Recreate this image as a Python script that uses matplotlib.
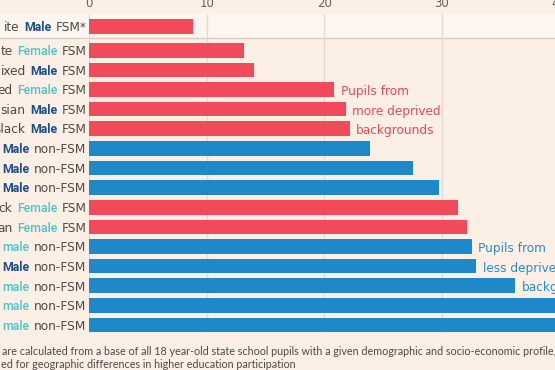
import numpy as np
import matplotlib
matplotlib.use("Agg")
import matplotlib.pyplot as plt
from matplotlib.patches import Rectangle
from matplotlib.lines import Line2D

# ---------------- data (label text as visible in the cropped reference) ----------------
label_prefix = ["ite", "te", "ixed", "ed", "sian", "Black", "", "",
                "", "ck", "an", "", "", "", "", ""]
gender = ["Male", "Female", "Male", "Female", "Male", "Male", "Male", "Male",
          "Male", "Female", "Female", "Female", "Male", "Female", "Female", "Female"]
gender_shown = ["Male", "Female", "Male", "Female", "Male", "Male", "Male", "Male",
                "Male", "Female", "Female", "male", "Male", "male", "male", "male"]
status = ["FSM*", "FSM", "FSM", "FSM", "FSM", "FSM", "non-FSM", "non-FSM",
          "non-FSM", "FSM", "FSM", "non-FSM", "non-FSM", "non-FSM", "non-FSM", "non-FSM"]
rates = [8.85, 13.2, 14.0, 20.85, 21.85, 22.15, 23.85, 27.55,
         29.75, 31.35, 32.15, 32.55, 32.95, 36.25, 40.6, 41.8]
x_ticks = [0, 10, 20, 30, 40]

red_note = ["Pupils from", "more deprived", "backgrounds"]
red_note_rows = [3, 4, 5]
blue_note = ["Pupils from", "less deprived", "backgrounds"]
blue_note_rows = [11, 12, 13]

footnote_lines = [
    "are calculated from a base of all 18 year-old state school pupils with a given demographic and socio-economic profile,",
    "ed for geographic differences in higher education participation",
]

# ---------------- style ----------------
BG = "#fcefe6"
BAND = "#fdf6f0"
GRID = "#e5dad0"
SEP = "#d8cdc4"
RED = "#f04a5b"
BLUE = "#1e88c8"
RED_TXT = "#e44c5e"
BLUE_TXT = "#2a8cc9"
MALE_C = "#1c4f8a"
FEMALE_C = "#4ec3c6"
GREY = "#4f4a47"
TICK_C = "#66605c"

MAIN_FAMILY = ["DejaVu Sans"]
GEN_FAMILY = ["Roboto", "Liberation Sans", "DejaVu Sans"]
FN_FAMILY = ["Liberation Sans Narrow", "Lato", "DejaVu Sans"]

W, H = 555, 370
fig = plt.figure(figsize=(W / 100, H / 100), dpi=100, facecolor=BG)
fig.canvas.draw()
rend = fig.canvas.get_renderer()


def fit_size(text, target_px, family, weight="normal"):
    t = fig.text(0, 0, text, fontsize=10, family=family, fontweight=weight)
    w = t.get_window_extent(rend).width
    t.remove()
    return 10 * target_px / w


FS = fit_size("non-FSM", 52.0, MAIN_FAMILY)
FS_MALE = fit_size("Male", 27.3, GEN_FAMILY, "bold")
FS_FEMALE = fit_size("Female", 40.0, GEN_FAMILY, "medium")
FS_FN = fit_size(footnote_lines[0], 551.0, FN_FAMILY)

x0_px, px_per_unit = 89.3, 11.75
top_px, bot_px = 13.5, 332.5
xmax = 45
ax = fig.add_axes([x0_px / W, 1 - bot_px / H, xmax * px_per_unit / W, (bot_px - top_px) / H])
ax.patch.set_visible(False)

n = len(rates)
ypos = np.arange(n, dtype=float) - 1.0
ypos[0] -= 0.22
ax.set_xlim(0, xmax)
ax.set_ylim(14.38, -1.87)

colors = [RED if s.startswith("FSM") else BLUE for s in status]
ax.barh(ypos, rates, height=0.745, color=colors, zorder=2)

# top band and separator spanning whole figure
sep_px = 37.6
fig.add_artist(Rectangle((0, 1 - sep_px / H), 1, (sep_px - top_px) / H,
                         transform=fig.transFigure, facecolor=BAND, edgecolor="none", zorder=-2))
fig.add_artist(Line2D([0, 1], [1 - sep_px / H] * 2, transform=fig.transFigure,
                      color=SEP, lw=1.0, zorder=-1))

ax.set_xticks(x_ticks)
ax.set_xticklabels([str(t) for t in x_ticks])
ax.xaxis.tick_top()
ax.tick_params(axis="x", length=0, pad=2.5, labelsize=FS * 0.97, colors=TICK_C)
ax.set_yticks([])
for s in ax.spines.values():
    s.set_visible(False)
ax.xaxis.grid(True, color=GRID, lw=1.0)
ax.set_axisbelow(True)

# multi-coloured category labels, chained right to left
ybase_off = -3.4
for i in range(n):
    t1 = ax.annotate(status[i], xy=(0, ypos[i]), xycoords="data",
                     xytext=(-2.0, ybase_off), textcoords="offset points",
                     ha="right", va="baseline", fontsize=FS, color=GREY,
                     family=MAIN_FAMILY, annotation_clip=False)
    male = gender[i] == "Male"
    t2 = ax.annotate(gender_shown[i], xy=(0, ypos[i]), xycoords=(t1, "data"),
                     xytext=(-3.2, ybase_off), textcoords="offset points",
                     ha="right", va="baseline", family=GEN_FAMILY,
                     fontsize=FS_MALE if male else FS_FEMALE,
                     color=MALE_C if male else FEMALE_C,
                     fontweight="bold" if male else "medium",
                     annotation_clip=False)
    if label_prefix[i]:
        ax.annotate(label_prefix[i], xy=(0, ypos[i]), xycoords=(t2, "data"),
                    xytext=(-3.2, ybase_off), textcoords="offset points",
                    ha="right", va="baseline", fontsize=FS, color=GREY,
                    family=MAIN_FAMILY, annotation_clip=False)

# annotations
for txt, r in zip(red_note, red_note_rows):
    ax.annotate(txt, xy=(rates[r], ypos[r]), xytext=(4.6, ybase_off - 0.6),
                textcoords="offset points", ha="left", va="baseline",
                fontsize=FS, color=RED_TXT, family=MAIN_FAMILY, annotation_clip=False)
for txt, r in zip(blue_note, blue_note_rows):
    ax.annotate(txt, xy=(rates[r], ypos[r]), xytext=(4.6, ybase_off - 0.6),
                textcoords="offset points", ha="left", va="baseline",
                fontsize=FS, color=BLUE_TXT, family=MAIN_FAMILY, annotation_clip=False)

# footnote
baselines_px = [355.3, 368.3]
starts_px = [1.7, 1.0]
for txt, bl, sx in zip(footnote_lines, baselines_px, starts_px):
    fig.text(sx / W, 1 - bl / H, txt, fontsize=FS_FN, family=FN_FAMILY,
             color=GREY, ha="left", va="baseline")

fig.savefig("out.png", dpi=100, facecolor=BG)
